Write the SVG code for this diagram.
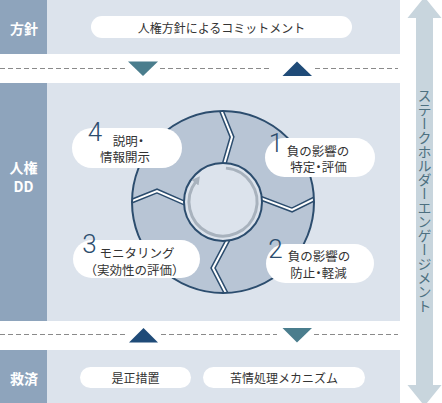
<svg xmlns="http://www.w3.org/2000/svg" width="442" height="403" viewBox="0 0 442 403">
<defs>
<style>
.band{fill:#dce3ec}
.side{fill:#8ea4bc}
.side-t{font-family:"Noto Sans CJK JP","Noto Sans",sans-serif;font-weight:bold;font-size:14px;fill:#ffffff;text-anchor:middle}
.pill{fill:#ffffff}
.t{font-family:"Noto Sans CJK JP","Noto Sans",sans-serif;font-size:12px;fill:#333333;text-anchor:middle}
.t2{font-family:"Noto Sans CJK JP","Noto Sans",sans-serif;font-size:12.5px;fill:#333333;text-anchor:middle}
.num{font-family:Roboto,"Noto Sans",sans-serif;font-weight:300;font-size:26px;fill:#2c4d6e;text-anchor:middle}
.dash{stroke:#8a8a8a;stroke-width:1;stroke-dasharray:5 3;fill:none}
.down{fill:#4a7d8d}
.up{fill:#1f4b78}
.sepd{fill:none;stroke:#2c4d6e;stroke-width:5;stroke-linejoin:miter}
.sepw{fill:none;stroke:#ffffff;stroke-width:2;stroke-linejoin:miter}
</style>
<clipPath id="ringclip">
<path clip-rule="evenodd" d="M132,202 a91,91 0 1,0 182,0 a91,91 0 1,0 -182,0 Z M184,202 a39,39 0 1,0 78,0 a39,39 0 1,0 -78,0 Z"/>
</clipPath>
<marker id="ah" markerWidth="10" markerHeight="10" refX="2" refY="4.5" orient="auto" markerUnits="userSpaceOnUse">
<path d="M0,0 L8,4.5 L0,9 Z" fill="#a8b2bd"/>
</marker>
</defs>

<rect width="442" height="403" fill="#ffffff"/>

<g id="stakeholder-engagement">
<path d="M424.5,-3 L441.5,18 L433,18 L433,385 L441.5,385 L424.5,406 L407.5,385 L416,385 L416,18 L407.5,18 Z" fill="#c8d5dd"/>
<text x="424.5" y="201" writing-mode="vertical-rl" text-anchor="middle" font-family="'Noto Sans CJK JP','Noto Sans',sans-serif" font-size="14" fill="#4d7080">ステークホルダーエンゲージメント</text>
</g>

<g id="band-policy">
<rect class="band" x="0" y="0" width="400" height="54"/>
<rect class="side" x="0" y="0" width="47" height="54"/>
<text class="side-t" x="24" y="34">方針</text>
<rect class="pill" x="91" y="16" width="261" height="22" rx="11"/>
<text class="t" x="221.5" y="32.5">人権方針によるコミットメント</text>
</g>

<g id="band-dd">
<rect class="band" x="0" y="83" width="400" height="238"/>
<rect class="side" x="0" y="83" width="47" height="238"/>
<text class="side-t" x="23.5" y="173">人権</text>
<text class="side-t" x="23.5" y="192">DD</text>
</g>

<g id="band-remedy">
<rect class="band" x="0" y="350" width="400" height="53"/>
<rect class="side" x="0" y="350" width="47" height="53"/>
<text class="side-t" x="24" y="383.5">救済</text>
<g id="remedy-correction">
<rect class="pill" x="80" y="367" width="111" height="21" rx="10.5"/>
<text class="t" x="135.5" y="383">是正措置</text>
</g>
<g id="remedy-grievance">
<rect class="pill" x="203" y="367" width="162" height="21" rx="10.5"/>
<text class="t" x="284" y="383">苦情処理メカニズム</text>
</g>
</g>

<g id="cycle">
<path d="M132,202 a91,91 0 1,0 182,0 a91,91 0 1,0 -182,0 Z M184,202 a39,39 0 1,0 78,0 a39,39 0 1,0 -78,0 Z" fill="#b8c5d5" fill-rule="evenodd"/>
<g clip-path="url(#ringclip)">
<polyline class="sepd" points="219.5,106 232,137 223,168"/>
<polyline class="sepd" points="318.5,196.9 292,210 256,196.4"/>
<polyline class="sepd" points="228,297 213,268 230.5,235"/>
<polyline class="sepd" points="127,203 157,191 189,205"/>
<polyline class="sepw" points="219.5,106 232,137 223,168"/>
<polyline class="sepw" points="318.5,196.9 292,210 256,196.4"/>
<polyline class="sepw" points="228,297 213,268 230.5,235"/>
<polyline class="sepw" points="127,203 157,191 189,205"/>
</g>
<circle cx="223" cy="202" r="91" fill="none" stroke="#2c4d6e" stroke-width="2"/>
<circle cx="223" cy="202" r="39" fill="none" stroke="#2c4d6e" stroke-width="2"/>
</g>

<g id="connectors">
<line class="dash" x1="0" y1="68.5" x2="126" y2="68.5"/>
<line class="dash" x1="160" y1="68.5" x2="272" y2="68.5"/>
<line class="dash" x1="315" y1="68.5" x2="398" y2="68.5"/>
<polygon class="down" points="128,61.5 158,61.5 143,76"/>
<polygon class="up" points="282.5,76 312,76 297,61.5"/>
<line class="dash" x1="0" y1="334.5" x2="126" y2="334.5"/>
<line class="dash" x1="161" y1="334.5" x2="277" y2="334.5"/>
<line class="dash" x1="314" y1="334.5" x2="398" y2="334.5"/>
<polygon class="up" points="129,342.5 158,342.5 143.5,328"/>
<polygon class="down" points="282.5,328 312,328 297,342.5"/>
<path d="M225.96,168.13 A34,34 0 1,1 196.2,181.1" fill="none" stroke="#a8b2bd" stroke-width="3" marker-end="url(#ah)"/>
</g>

<g id="step-1">
<rect class="pill" x="265" y="138" width="110" height="39" rx="19.5"/>
<text class="num" x="276" y="152">1</text>
<text class="t2" x="318" y="156">負の影響の</text>
<text class="t2" x="318.5" y="172">特定<tspan dx="-3">・</tspan><tspan dx="-3">評価</tspan></text>
</g>
<g id="step-2">
<rect class="pill" x="266" y="244" width="108" height="39" rx="19.5"/>
<text class="num" x="275.5" y="258">2</text>
<text class="t2" x="319" y="261">負の影響の</text>
<text class="t2" x="318.5" y="277.5">防止<tspan dx="-3">・</tspan><tspan dx="-3">軽減</tspan></text>
</g>
<g id="step-3">
<rect class="pill" x="73" y="240" width="127" height="38" rx="19"/>
<text class="num" x="89.5" y="253">3</text>
<text class="t2" x="137" y="258">モニタリング</text>
<text class="t2" x="134.5" y="275">（実効性の評価）</text>
</g>
<g id="step-4">
<rect class="pill" x="72" y="128" width="110" height="40" rx="20"/>
<text class="num" x="95" y="141">4</text>
<text class="t2" x="130" y="146">説明<tspan dx="-3">・</tspan></text>
<text class="t2" x="125" y="162">情報開示</text>
</g>
</svg>
